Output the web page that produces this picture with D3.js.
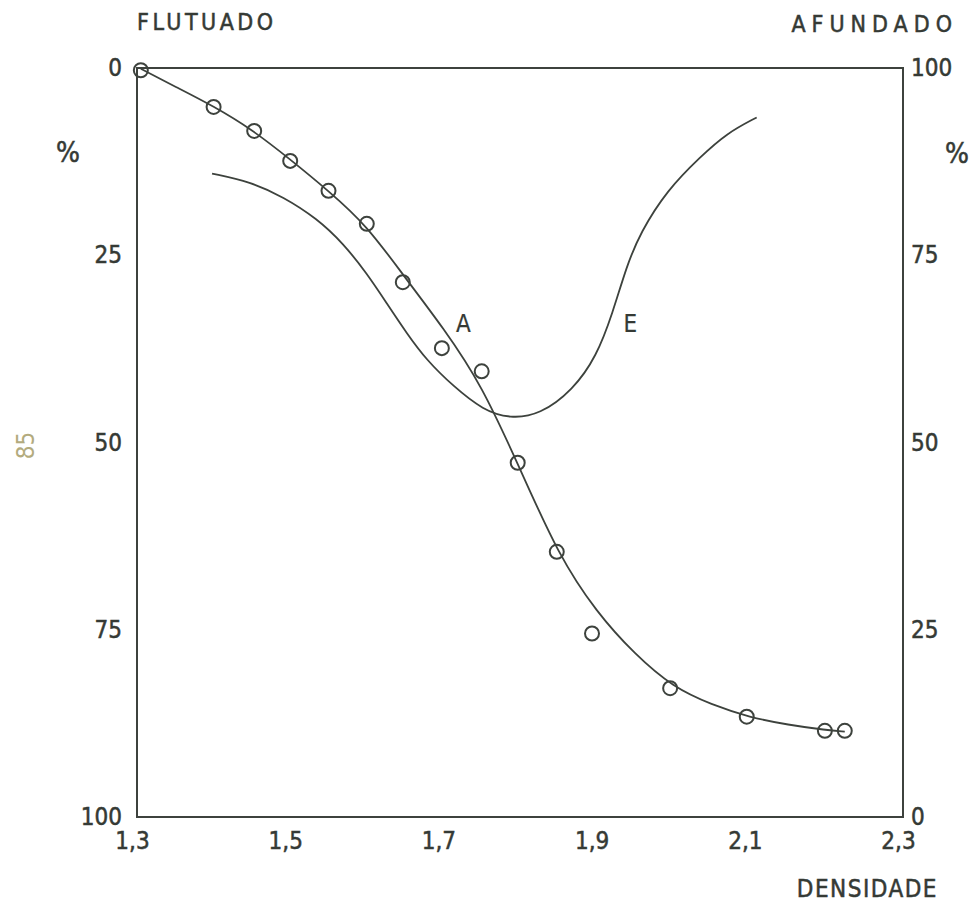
<!DOCTYPE html>
<html>
<head>
<meta charset="utf-8">
<script src="https://cdn.jsdelivr.net/npm/d3@7"></script>
<style>
  body { margin: 0; background: #fff; }
  svg text { font-family: 'DejaVu Sans Condensed', 'DejaVu Sans', sans-serif; fill: #353a35; stroke: #353a35; stroke-width: 0.5px; }
</style>
</head>
<body>
<div id="chart"></div>
<script>
// pontos medidos: densidade x % flutuado
const densidades = [1.305, 1.40, 1.453, 1.50, 1.55, 1.60, 1.647, 1.698, 1.75, 1.797, 1.848, 1.894, 1.996, 2.096, 2.198, 2.224]
const flutuado = [0.3, 5.2, 8.4, 12.4, 16.4, 20.8, 28.6, 37.4, 40.5, 52.7, 64.6, 75.5, 82.8, 86.6, 88.5, 88.5]

// curva A (ajustada aos pontos), escala da esquerda
const curvaAx = [1.305, 1.35, 1.40, 1.45, 1.50, 1.55, 1.60, 1.65, 1.70, 1.75, 1.80, 1.85, 1.90, 1.95, 2.00, 2.05, 2.10, 2.15, 2.20, 2.224]
const curvaAy = [0.1, 2.5, 5.1, 8.2, 12.2, 16.4, 21.0, 28.0, 34.7, 42.3, 53.5, 65.0, 72.7, 78.3, 82.7, 85.0, 86.7, 87.7, 88.4, 88.6]

// curva E, escala da direita (% afundado)
const curvaEx = [1.398, 1.448, 1.491, 1.535, 1.569, 1.600, 1.626, 1.652, 1.678, 1.713, 1.752, 1.787, 1.826, 1.869, 1.900, 1.921, 1.939, 1.957, 1.992, 2.036, 2.070, 2.109]
const curvaEy = [85.9, 84.8, 82.8, 79.9, 76.6, 72.6, 68.6, 64.6, 61.0, 57.5, 54.3, 53.2, 53.7, 57.0, 61.5, 67.3, 73.5, 78.0, 83.7, 88.2, 91.3, 93.4]

const xTicks = [1.3, 1.5, 1.7, 1.9, 2.1, 2.3]
const yTicks = [0, 25, 50, 75, 100]

const margin = {
  top: 68,
  right: 72,
  bottom: 87,
  left: 137
}

const width = 975 - margin.left - margin.right
const height = 904 - margin.top - margin.bottom

const ink = '#3d423d'

const svg = d3
  .select('#chart')
  .append('svg')
  .attr('width', width + margin.left + margin.right)
  .attr('height', height + margin.top + margin.bottom)
  .append('g')
  .attr('transform', 'translate(' + margin.left + ',' + margin.top + ')')

const xPositionScale = d3.scaleLinear().domain([1.3, 2.3]).range([0, width])
const yLeftScale = d3.scaleLinear().domain([0, 100]).range([0, height])
const yRightScale = d3.scaleLinear().domain([0, 100]).range([height, 0])

const comma = d => d.toFixed(1).replace('.', ',')

/* frame */
svg
  .append('rect')
  .attr('x', 0)
  .attr('y', 0)
  .attr('width', width)
  .attr('height', height)
  .attr('fill', 'none')
  .attr('stroke', ink)
  .attr('stroke-width', 2)

/* axes */
const yAxisLeft = d3.axisLeft(yLeftScale).tickValues(yTicks).tickSize(0).tickPadding(15)
svg
  .append('g')
  .attr('class', 'axis y-left')
  .call(yAxisLeft)
  .style('font-size', '24px')
svg.select('.y-left .domain').remove()

const yAxisRight = d3.axisRight(yRightScale).tickValues(yTicks).tickSize(0).tickPadding(8)
svg
  .append('g')
  .attr('class', 'axis y-right')
  .attr('transform', 'translate(' + width + ',0)')
  .call(yAxisRight)
  .style('font-size', '24px')
svg.select('.y-right .domain').remove()

const xAxis = d3.axisBottom(xPositionScale).tickValues(xTicks).tickSize(0).tickPadding(15).tickFormat(comma)
svg
  .append('g')
  .attr('class', 'axis x-axis')
  .attr('transform', 'translate(0,' + height + ')')
  .call(xAxis)
  .style('font-size', '24px')
svg.select('.x-axis .domain').remove()
svg.selectAll('.x-axis .tick text').attr('dx', -5)

svg.selectAll('.axis text').attr('fill', '#353a35').style('font-family', null)

/* curves */
const lineA = d3
  .line()
  .x(d => xPositionScale(d[0]))
  .y(d => yLeftScale(d[1]))
  .curve(d3.curveBasis)

const lineE = d3
  .line()
  .x(d => xPositionScale(d[0]))
  .y(d => yRightScale(d[1]))
  .curve(d3.curveBasis)

svg
  .append('path')
  .datum(d3.zip(curvaAx, curvaAy))
  .attr('d', lineA)
  .attr('fill', 'none')
  .attr('stroke', ink)
  .attr('stroke-width', 1.8)

svg
  .append('path')
  .datum(d3.zip(curvaEx, curvaEy))
  .attr('d', lineE)
  .attr('fill', 'none')
  .attr('stroke', ink)
  .attr('stroke-width', 1.8)

/* measured points */
svg
  .selectAll('circle')
  .data(d3.zip(densidades, flutuado))
  .enter()
  .append('circle')
  .attr('cx', d => xPositionScale(d[0]))
  .attr('cy', d => yLeftScale(d[1]))
  .attr('r', 7)
  .attr('fill', 'none')
  .attr('stroke', ink)
  .attr('stroke-width', 2)

/* labels */
svg.append('text')
  .attr('x', xPositionScale(1.726))
  .attr('y', yLeftScale(35.3))
  .attr('text-anchor', 'middle')
  .style('font-size', '24px')
  .style('stroke-width', '0.2px')
  .text('A')

svg.append('text')
  .attr('x', xPositionScale(1.944))
  .attr('y', yRightScale(64.7))
  .attr('text-anchor', 'middle')
  .style('font-size', '24px')
  .style('stroke-width', '0.2px')
  .text('E')

svg.append('text')
  .attr('x', 0)
  .attr('y', -38)
  .style('font-size', '23px')
  .style('letter-spacing', '3.5px')
  .text('FLUTUADO')

svg.append('text')
  .attr('x', width + 55)
  .attr('y', -36)
  .attr('text-anchor', 'end')
  .style('font-size', '23px')
  .style('letter-spacing', '6px')
  .text('AFUNDADO')

svg.append('text')
  .attr('x', width + 35)
  .attr('y', height + 80)
  .attr('text-anchor', 'end')
  .style('font-size', '24px')
  .style('letter-spacing', '1.5px')
  .text('DENSIDADE')

svg.append('text')
  .attr('x', -69)
  .attr('y', 94)
  .attr('text-anchor', 'middle')
  .style('font-size', '28px')
  .text('%')

svg.append('text')
  .attr('x', width + 54)
  .attr('y', 95)
  .attr('text-anchor', 'middle')
  .style('font-size', '28px')
  .text('%')

svg.append('text')
  .attr('transform', 'translate(-103,' + (yLeftScale(50) + 3) + ') rotate(-90)')
  .attr('text-anchor', 'middle')
  .style('font-size', '24px')
  .style('fill', '#b3ab7e')
  .style('stroke', 'none')
  .text('85')
</script>
</body>
</html>
